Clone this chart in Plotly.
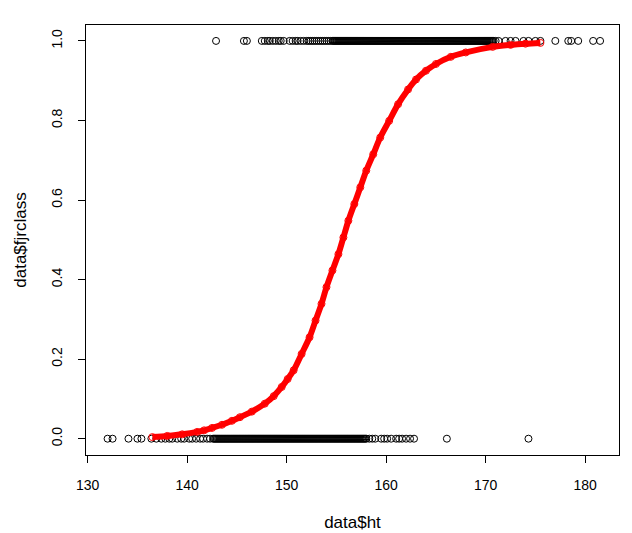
import plotly.graph_objects as go

# heights of the cases with class 0 (black rings along y = 0)
ht_class0 = [
    132.0, 132.5, 134.1, 135.0, 135.4, 136.4, 136.9, 137.4, 137.8, 138.2,
    138.5, 139.0, 139.4, 139.7, 140.2, 140.5, 140.9, 141.3, 141.6, 142.0,
    142.3, 142.6, 142.7, 142.8, 142.9, 143.0, 143.1, 143.2, 143.3, 143.4,
    143.5, 143.6, 143.7, 143.8, 143.9, 144.0, 144.1, 144.2, 144.3, 144.4,
    144.5, 144.6, 144.7, 144.8, 144.9, 145.0, 145.1, 145.2, 145.3, 145.4,
    145.5, 145.6, 145.7, 145.8, 145.9, 146.0, 146.1, 146.2, 146.3, 146.4,
    146.5, 146.6, 146.7, 146.8, 146.9, 147.0, 147.1, 147.2, 147.3, 147.4,
    147.5, 147.6, 147.7, 147.8, 147.9, 148.0, 148.1, 148.2, 148.3, 148.4,
    148.5, 148.6, 148.7, 148.8, 148.9, 149.0, 149.1, 149.2, 149.3, 149.4,
    149.5, 149.6, 149.7, 149.8, 149.9, 150.0, 150.1, 150.2, 150.3, 150.4,
    150.5, 150.6, 150.7, 150.8, 150.9, 151.0, 151.1, 151.2, 151.3, 151.4,
    151.5, 151.6, 151.7, 151.8, 151.9, 152.0, 152.1, 152.2, 152.3, 152.4,
    152.5, 152.6, 152.7, 152.8, 152.9, 153.0, 153.1, 153.2, 153.3, 153.4,
    153.5, 153.6, 153.7, 153.8, 153.9, 154.0, 154.1, 154.2, 154.3, 154.4,
    154.5, 154.6, 154.7, 154.8, 154.9, 155.0, 155.1, 155.2, 155.3, 155.4,
    155.5, 155.6, 155.7, 155.8, 155.9, 156.0, 156.1, 156.2, 156.3, 156.4,
    156.5, 156.6, 156.7, 156.8, 156.9, 157.0, 157.1, 157.2, 157.3, 157.4,
    157.5, 157.6, 157.7, 157.8, 157.9, 158.0, 158.3, 158.6, 158.9, 159.5,
    159.8, 160.1, 160.5, 161.0, 161.3, 161.6, 162.0, 162.4, 162.8, 166.1,
    174.3,
]

# heights of the cases with class 1 (black rings along y = 1)
ht_class1 = [
    142.9, 145.7, 146.0, 147.5, 147.8, 148.1, 148.3, 148.6, 148.9, 149.2,
    149.4, 149.7, 150.3, 150.6, 150.9, 151.1, 151.4, 151.7, 152.0, 152.2,
    152.4, 152.6, 152.8, 153.0, 153.2, 153.4, 153.6, 153.8, 154.0, 154.2,
    154.4, 154.6, 154.7, 154.8, 154.9, 155.0, 155.1, 155.2, 155.3, 155.4,
    155.5, 155.6, 155.7, 155.8, 155.9, 156.0, 156.1, 156.2, 156.3, 156.4,
    156.5, 156.6, 156.7, 156.8, 156.9, 157.0, 157.1, 157.2, 157.3, 157.4,
    157.5, 157.6, 157.7, 157.8, 157.9, 158.0, 158.1, 158.2, 158.3, 158.4,
    158.5, 158.6, 158.7, 158.8, 158.9, 159.0, 159.1, 159.2, 159.3, 159.4,
    159.5, 159.6, 159.7, 159.8, 159.9, 160.0, 160.1, 160.2, 160.3, 160.4,
    160.5, 160.6, 160.7, 160.8, 160.9, 161.0, 161.1, 161.2, 161.3, 161.4,
    161.5, 161.6, 161.7, 161.8, 161.9, 162.0, 162.1, 162.2, 162.3, 162.4,
    162.5, 162.6, 162.7, 162.8, 162.9, 163.0, 163.1, 163.2, 163.3, 163.4,
    163.5, 163.6, 163.7, 163.8, 163.9, 164.0, 164.1, 164.2, 164.3, 164.4,
    164.5, 164.6, 164.7, 164.8, 164.9, 165.0, 165.1, 165.2, 165.3, 165.4,
    165.5, 165.6, 165.7, 165.8, 165.9, 166.0, 166.1, 166.2, 166.3, 166.4,
    166.5, 166.6, 166.7, 166.8, 166.9, 167.0, 167.1, 167.2, 167.3, 167.4,
    167.5, 167.6, 167.7, 167.8, 167.9, 168.0, 168.1, 168.2, 168.3, 168.4,
    168.5, 168.6, 168.7, 168.8, 168.9, 169.0, 169.1, 169.2, 169.3, 169.4,
    169.5, 169.6, 169.7, 169.8, 169.9, 170.0, 170.1, 170.2, 170.3, 170.4,
    170.5, 170.6, 170.7, 170.8, 171.0, 171.3, 172.0, 172.5, 173.0, 173.8,
    174.3, 175.0, 175.5, 177.0, 178.3, 178.6, 179.3, 180.8, 181.5,
]

# fitted probabilities (red rings)
fit_ht = [
    136.5, 138.0, 139.5, 141.0, 141.7, 142.5, 143.5, 144.5, 145.3, 146.5,
    147.8, 148.7, 149.5, 150.1, 150.7, 151.5, 152.3, 152.9, 153.5, 154.0,
    154.6, 155.2, 155.7, 156.2, 156.8, 157.4, 158.0, 158.7, 159.4, 160.3,
    161.2, 162.2, 163.0, 164.0, 165.0, 166.5, 168.0, 170.7, 172.5, 174.0,
    175.5,
]
fit_prob = [
    0.004, 0.007, 0.011, 0.017, 0.021, 0.027, 0.035, 0.045, 0.054, 0.068,
    0.088, 0.107, 0.130, 0.150, 0.172, 0.213, 0.255, 0.297, 0.339, 0.381,
    0.423, 0.464, 0.506, 0.548, 0.590, 0.632, 0.674, 0.715, 0.757, 0.799,
    0.841, 0.878, 0.903, 0.925, 0.942, 0.960, 0.971, 0.985, 0.990, 0.993,
    0.995,
]

x_ticks = [130, 140, 150, 160, 170, 180]
y_ticks = [0.0, 0.2, 0.4, 0.6, 0.8, 1.0]
y_tick_text = ["0.0", "0.2", "0.4", "0.6", "0.8", "1.0"]

FONT = "Liberation Sans, Arial, sans-serif"

ring = dict(symbol="circle-open", size=7, color="black", line=dict(width=1))

fig = go.Figure()
fig.add_trace(go.Scatter(x=ht_class0, y=[0] * len(ht_class0), mode="markers", marker=ring))
fig.add_trace(go.Scatter(x=ht_class1, y=[1] * len(ht_class1), mode="markers", marker=ring))
fig.add_trace(go.Scatter(
    x=fit_ht, y=fit_prob, mode="lines+markers",
    line=dict(color="red", width=6, shape="spline", smoothing=0.8),
    marker=dict(symbol="circle-open", size=7, color="red", line=dict(width=1)),
))

axis_style = dict(
    ticks="outside", ticklen=7, tickwidth=1, tickcolor="black",
    showline=True, mirror=True, linecolor="black", linewidth=1,
    showgrid=False, zeroline=False,
    tickfont=dict(family=FONT, size=14, color="black"),
    ticklabelstandoff=10,
)

fig.update_layout(
    width=632, height=533,
    margin=dict(l=75, r=21, t=17, b=85),
    plot_bgcolor="white", paper_bgcolor="white",
    showlegend=False,
    font=dict(family=FONT, size=14, color="black"),
    xaxis=dict(range=[129.83, 183.4], tickvals=x_ticks,
               title=dict(text="data$ht", standoff=24), **axis_style),
    yaxis=dict(range=[-0.041, 1.04], tickvals=y_ticks, ticktext=y_tick_text, tickangle=-90,
               title=dict(text="data$fjrclass", standoff=18), **axis_style),
)

fig.write_html("out.html")
